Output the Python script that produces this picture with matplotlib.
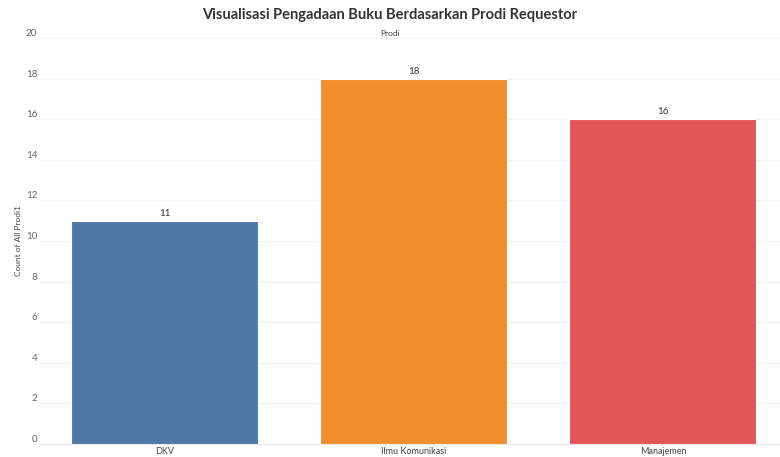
import matplotlib.pyplot as plt

plt.rcParams['font.family'] = ['Lato', 'DejaVu Sans']

prodi = ['DKV', 'Ilmu Komunikasi', 'Manajemen']
counts = [11, 18, 16]
colors = ['#4E79A7', '#F28E2B', '#E15759']
yticks = list(range(0, 21, 2))

fig = plt.figure(figsize=(7.8, 4.57), dpi=100)
ax = fig.add_axes([40 / 780, 1 - 444 / 457, 740 / 780, 406 / 457])

x = list(range(len(prodi)))
ax.bar(x, counts, width=0.75, color=colors, edgecolor='white', linewidth=0.8, zorder=3)

for xi, c in zip(x, counts):
    ax.text(xi, c + 0.15, str(c), ha='center', va='bottom', fontsize=7, color='#333333')

ax.set_xlim(-0.5, 2.47)
ax.set_ylim(0, 20)
ax.set_xticks(x)
ax.set_xticklabels(prodi, fontsize=6.5, color='#444444')
ax.set_yticks(yticks)
ax.set_yticklabels([str(t) for t in yticks], fontsize=7, color='#666666', va='bottom')
ax.tick_params(axis='both', length=0, pad=2)
ax.tick_params(axis='x', pad=2)
ax.grid(axis='y', color='#f0f0f0', linewidth=0.8, zorder=0)

for s in ['top', 'right', 'left']:
    ax.spines[s].set_visible(False)
ax.spines['bottom'].set_color('#e6e6e6')

ax.set_ylabel('Count of All Prodi1', fontsize=6, color='#444444')
ax.yaxis.set_label_coords(-0.024, 0.5)

fig.text(0.5, 1 - 15 / 457, 'Visualisasi Pengadaan Buku Berdasarkan Prodi Requestor',
         ha='center', va='center', fontsize=10.5, fontweight='bold', color='#333333')
fig.text(0.5, 1 - 33 / 457, 'Prodi', ha='center', va='center', fontsize=6, color='#444444')

fig.savefig('out.png', dpi=100)
